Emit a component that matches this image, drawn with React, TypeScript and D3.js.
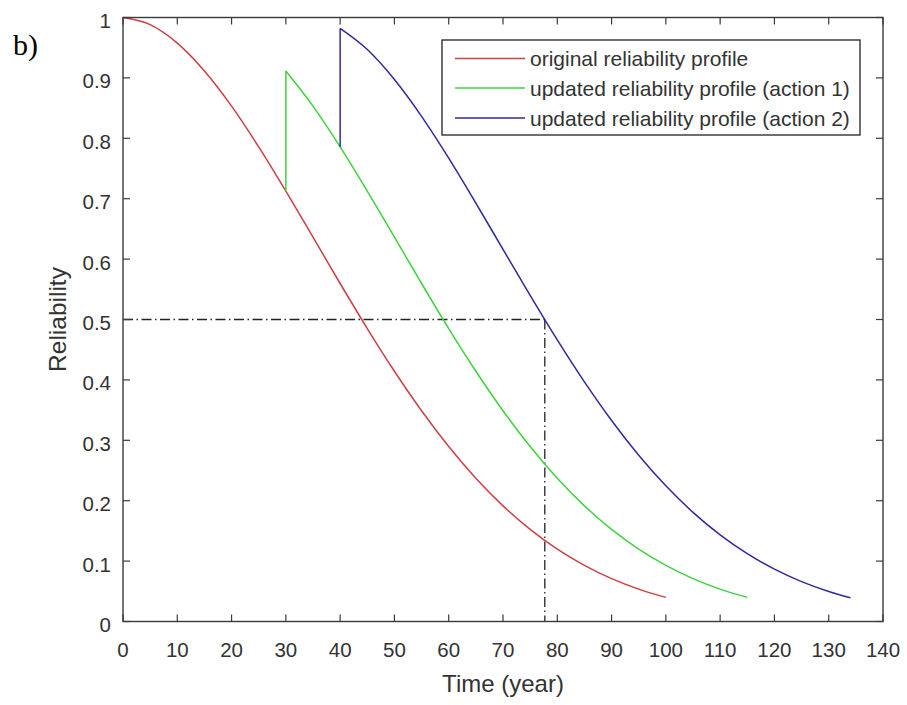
import React from "react";
import * as d3 from "d3";

// ---- data ----
const xTicks = [0, 10, 20, 30, 40, 50, 60, 70, 80, 90, 100, 110, 120, 130, 140];
const yTicks = [0, 0.1, 0.2, 0.3, 0.4, 0.5, 0.6, 0.7, 0.8, 0.9, 1];
const yTickLabels = ["0", "0.1", "0.2", "0.3", "0.4", "0.5", "0.6", "0.7", "0.8", "0.9", "1"];

const redTime = [0, 5, 10, 15, 20, 25, 30, 35, 40, 45, 50, 55, 60, 65, 70, 75, 80, 85, 90, 95, 100];
const redRel = [1, 0.9882, 0.9575, 0.9114, 0.8532, 0.7858, 0.7125, 0.6362, 0.5596, 0.485, 0.4143, 0.3489, 0.2897, 0.2371, 0.1914, 0.1525, 0.1198, 0.0929, 0.071, 0.0536, 0.0399];

const greenTime = [30, 35, 40, 45, 50, 55, 60, 65, 70, 75, 80, 85, 90, 95, 100, 105, 110, 115];
const greenRel = [0.9114, 0.8532, 0.7858, 0.7125, 0.6362, 0.5596, 0.485, 0.4143, 0.3489, 0.2897, 0.2371, 0.1914, 0.1525, 0.1198, 0.0929, 0.071, 0.0536, 0.0399];
const greenJumpFrom = 0.7125;

const blueTime = [40, 45, 50, 55, 60, 65, 70, 75, 80, 85, 90, 95, 100, 105, 110, 115, 120, 125, 130, 134];
const blueRel = [0.9819, 0.9469, 0.8974, 0.8364, 0.7672, 0.6928, 0.6162, 0.54, 0.4662, 0.3967, 0.3328, 0.2753, 0.2246, 0.1807, 0.1434, 0.1122, 0.0867, 0.0661, 0.0497, 0.0392];
const blueJumpFrom = 0.7858;

const thresholdRel = 0.5;
const thresholdTime = 77.7;

const seriesNames = [
  "original reliability profile",
  "updated reliability profile (action 1)",
  "updated reliability profile (action 2)",
];
const seriesColors = ["#cc3f44", "#3fd23f", "#2b2b9e"];

// ---- layout ----
const W = 907;
const H = 705;
const left = 123;
const right = 883;
const top = 17.5;
const bottom = 621.5;
const font = "'Liberation Sans', Arial, Helvetica, sans-serif";
const axisColor = "#3a3a3a";
const textColor = "#333";

export default function App() {
  const x = d3.scaleLinear().domain([0, 140]).range([left, right]);
  const y = d3.scaleLinear().domain([0, 1]).range([bottom, top]);

  const curve = d3
    .line<[number, number]>()
    .x((d) => x(d[0]))
    .y((d) => y(d[1]))
    .curve(d3.curveMonotoneX);
  const straight = d3
    .line<[number, number]>()
    .x((d) => x(d[0]))
    .y((d) => y(d[1]));

  const zip = (t: number[], r: number[]) => t.map((v, i) => [v, r[i]] as [number, number]);
  const red = zip(redTime, redRel);
  const green = zip(greenTime, greenRel);
  const blue = zip(blueTime, blueRel);

  const greenJump: [number, number][] = [[greenTime[0], greenJumpFrom], [greenTime[0], greenRel[0]]];
  const blueJump: [number, number][] = [[blueTime[0], blueJumpFrom], [blueTime[0], blueRel[0]]];

  const dash = "10,3.5,1.5,3.5";
  const tickLen = 7;

  const legX = 442;
  const legY = 40;
  const legW = 418;
  const legH = 95;
  const rowY = [58.5, 88, 118];

  return (
    <svg
      width={W}
      height={H}
      style={{ position: "absolute", left: 0, top: 0, background: "#fff" }}
    >
      <rect x={0} y={0} width={W} height={H} fill="#fff" />

      {/* threshold lines */}
      <path
        d={straight([[0, thresholdRel], [thresholdTime, thresholdRel]]) || ""}
        stroke="#222"
        strokeWidth={1.3}
        strokeDasharray={dash}
        fill="none"
      />
      <path
        d={straight([[thresholdTime, thresholdRel], [thresholdTime, 0]]) || ""}
        stroke="#222"
        strokeWidth={1.3}
        strokeDasharray={dash}
        fill="none"
      />

      {/* curves */}
      <path d={curve(red) || ""} stroke={seriesColors[0]} strokeWidth={1.5} fill="none" />
      <path d={straight(greenJump) || ""} stroke={seriesColors[1]} strokeWidth={1.5} fill="none" />
      <path d={curve(green) || ""} stroke={seriesColors[1]} strokeWidth={1.5} fill="none" />
      <path d={straight(blueJump) || ""} stroke={seriesColors[2]} strokeWidth={1.5} fill="none" />
      <path d={curve(blue) || ""} stroke={seriesColors[2]} strokeWidth={1.5} fill="none" />

      {/* axes box */}
      <rect
        x={left}
        y={top}
        width={right - left}
        height={bottom - top}
        fill="none"
        stroke={axisColor}
        strokeWidth={1.4}
      />
      {xTicks.map((t) => (
        <g key={"xt" + t}>
          <line x1={x(t)} x2={x(t)} y1={bottom} y2={bottom - tickLen} stroke={axisColor} strokeWidth={1.2} />
          <line x1={x(t)} x2={x(t)} y1={top} y2={top + tickLen} stroke={axisColor} strokeWidth={1.2} />
          <text
            x={x(t)}
            y={bottom + 35}
            textAnchor="middle"
            fontFamily={font}
            fontSize={20.5}
            fill={textColor}
          >
            {t}
          </text>
        </g>
      ))}
      {yTicks.map((t, i) => (
        <g key={"yt" + t}>
          <line x1={left} x2={left + tickLen} y1={y(t)} y2={y(t)} stroke={axisColor} strokeWidth={1.2} />
          <line x1={right} x2={right - tickLen} y1={y(t)} y2={y(t)} stroke={axisColor} strokeWidth={1.2} />
          <text
            x={left - 12}
            y={y(t) + 10.5}
            textAnchor="end"
            fontFamily={font}
            fontSize={20.5}
            fill={textColor}
          >
            {yTickLabels[i]}
          </text>
        </g>
      ))}

      {/* axis labels */}
      <text
        x={(left + right) / 2}
        y={692}
        textAnchor="middle"
        fontFamily={font}
        fontSize={24}
        fill={textColor}
      >
        Time (year)
      </text>
      <text
        transform={`translate(66,${(top + bottom) / 2}) rotate(-90)`}
        textAnchor="middle"
        fontFamily={font}
        fontSize={24.5}
        fill={textColor}
      >
        Reliability
      </text>

      {/* panel label */}
      <text x={13} y={55} fontFamily="'Liberation Serif', 'Times New Roman', serif" fontSize={30} fill="#000">
        b)
      </text>

      {/* legend */}
      <rect x={legX} y={legY} width={legW} height={legH} fill="#fff" stroke="#222" strokeWidth={1.3} />
      {seriesNames.map((name, i) => (
        <g key={name}>
          <line x1={455} x2={525} y1={rowY[i]} y2={rowY[i]} stroke={seriesColors[i]} strokeWidth={1.5} />
          <text x={530} y={rowY[i] + 7.5} fontFamily={font} fontSize={21} fill={textColor}>
            {name}
          </text>
        </g>
      ))}
    </svg>
  );
}
